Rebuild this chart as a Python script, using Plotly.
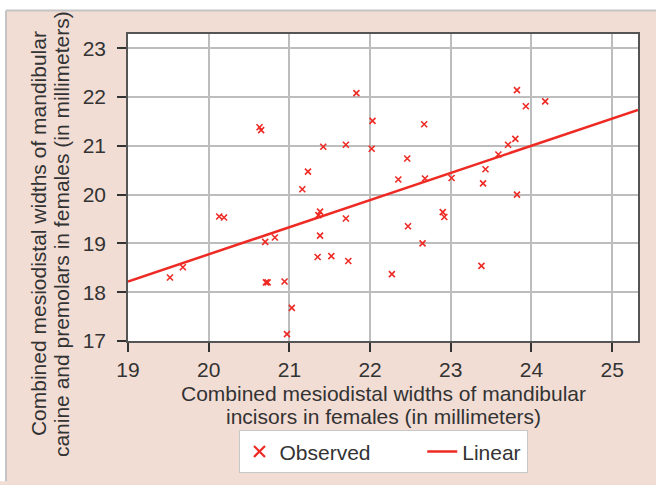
import plotly.graph_objects as go

# Data
incisors_width = [21.83, 22.03, 20.63, 20.65, 21.42, 21.70, 22.02, 21.23, 21.16,
                  23.82, 23.93, 24.17, 22.67, 23.80, 23.71, 22.46, 23.59, 22.35,
                  22.68, 23.01, 23.43, 23.40, 23.82, 20.13, 20.19, 21.38, 21.36,
                  21.70, 20.70, 20.82, 21.38, 19.68, 19.52, 21.35, 21.52, 21.73,
                  20.71, 20.73, 20.94, 21.03, 20.97, 22.90, 22.92, 22.47, 22.65,
                  22.27, 23.38]
canine_premolar_width = [22.08, 21.51, 21.38, 21.32, 20.98, 21.02, 20.94, 20.47, 20.11,
                         22.14, 21.81, 21.91, 21.44, 21.14, 21.02, 20.74, 20.82, 20.31,
                         20.33, 20.34, 20.52, 20.23, 20.00, 19.55, 19.53, 19.65, 19.58,
                         19.51, 19.03, 19.12, 19.16, 18.51, 18.30, 18.72, 18.74, 18.64,
                         18.20, 18.20, 18.22, 17.68, 17.14, 19.64, 19.54, 19.35, 19.00,
                         18.37, 18.54]

# Linear fit
fit_intercept = 7.656
fit_slope = 0.556

x_ticks = [19, 20, 21, 22, 23, 24, 25]
y_ticks = [17, 18, 19, 20, 21, 22, 23]
x_range = [19, 25.32]
y_range = [17, 23.29]

RED = "#ee2a24"
TXT = "#333333"
FONT = "Liberation Sans, Arial, sans-serif"
PINK = "#f2ddd5"

line_x = x_range
line_y = [fit_intercept + fit_slope * v for v in line_x]

fig = go.Figure()
fig.add_trace(go.Scatter(
    x=incisors_width, y=canine_premolar_width, mode="markers",
    marker=dict(symbol="x-thin", size=6, line=dict(width=1.6, color=RED), color=RED),
    showlegend=False, name="Observed", cliponaxis=False))
fig.add_trace(go.Scatter(
    x=line_x, y=line_y, mode="lines", line=dict(color=RED, width=2.5),
    showlegend=False, name="Linear"))
# legend entries
NBSP = "\u00a0"
fig.add_trace(go.Scatter(
    x=[None], y=[None], mode="markers", name="Observed" + NBSP * 8,
    marker=dict(symbol="x-thin", size=11, line=dict(width=2.2, color=RED), color=RED)))
fig.add_trace(go.Scatter(
    x=[None], y=[None], mode="lines", name="Linear",
    line=dict(color=RED, width=2.5)))

W, H = 656, 485
L, R, T, B = 128, 18, 34, 138
pw, ph = W - L - R, H - T - B

def px_to_xp(px):
    return (px - L) / pw

def py_to_yp(py):
    return (H - B - py) / ph

# white margins at top and left of the pink panel, with grey border lines
fig.add_shape(type="rect", xref="paper", yref="paper", layer="above",
              x0=px_to_xp(-5), x1=px_to_xp(W + 5), y0=py_to_yp(10), y1=py_to_yp(-5),
              fillcolor="white", line=dict(width=0))
fig.add_shape(type="rect", xref="paper", yref="paper", layer="above",
              x0=px_to_xp(-5), x1=px_to_xp(6), y0=py_to_yp(H + 5), y1=py_to_yp(-5),
              fillcolor="white", line=dict(width=0))
fig.add_shape(type="line", xref="paper", yref="paper", layer="above",
              x0=px_to_xp(6), x1=px_to_xp(W + 5), y0=py_to_yp(10), y1=py_to_yp(10),
              line=dict(color="#c4c4c4", width=2))
fig.add_shape(type="line", xref="paper", yref="paper", layer="above",
              x0=px_to_xp(6), x1=px_to_xp(6), y0=py_to_yp(10), y1=py_to_yp(H + 5),
              line=dict(color="#c4c4c4", width=2))

# axis titles as separate lines
ytitle = ["Combined mesiodistal widths of mandibular",
          "canine and premolars in females (in millimeters)"]
xtitle = ["Combined mesiodistal widths of mandibular",
          "incisors in females (in millimeters)"]
for txt, xp in zip(ytitle, [38, 61]):
    fig.add_annotation(text=txt, xref="paper", yref="paper", x=px_to_xp(xp), y=py_to_yp(238),
                       textangle=-90, showarrow=False, xanchor="center", yanchor="middle",
                       font=dict(family=FONT, size=21, color=TXT))
for txt, yp in zip(xtitle, [401, 424]):
    fig.add_annotation(text=txt, xref="paper", yref="paper", x=0.5, y=py_to_yp(yp),
                       showarrow=False, xanchor="center", yanchor="middle",
                       font=dict(family=FONT, size=21, color=TXT))

axis_common = dict(
    showgrid=True, gridcolor="#bdbdbd", gridwidth=1.5,
    showline=True, linecolor="#555555", linewidth=1.5, mirror=True,
    ticks="outside", ticklen=9, tickwidth=1.5, tickcolor="#333333",
    tickfont=dict(family=FONT, size=21, color=TXT), zeroline=False,
)
fig.update_xaxes(range=x_range, tickvals=x_ticks, ticktext=[str(v) for v in x_ticks],
                 **axis_common)
fig.update_yaxes(range=y_range, tickvals=y_ticks, ticktext=[str(v) for v in y_ticks],
                 ticklabelstandoff=7, **axis_common)

fig.update_layout(
    width=W, height=H,
    margin=dict(l=L, r=R, t=T, b=B),
    paper_bgcolor=PINK, plot_bgcolor="white",
    font=dict(family=FONT, size=21, color=TXT),
    legend=dict(orientation="h", x=0.5, xanchor="center",
                y=py_to_yp(438), yanchor="top",
                bgcolor="white", bordercolor="#c8c8c8", borderwidth=1,
                font=dict(family=FONT, size=21, color=TXT)),
)

fig.write_html("out.html", config={"displayModeBar": False},
               post_script="document.body.style.margin='0';")
